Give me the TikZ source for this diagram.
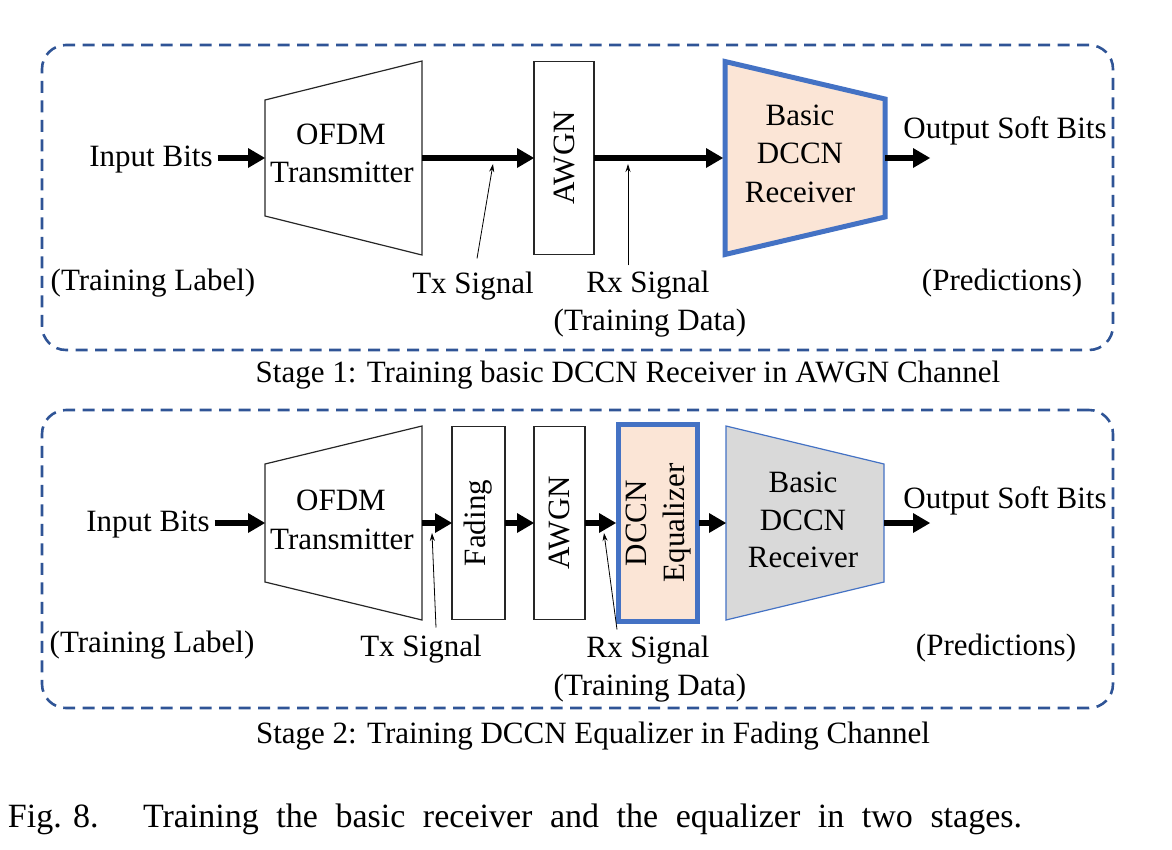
\documentclass[tikz,border=0pt]{standalone}
\usepackage{fontspec}
\usepackage{graphicx}
\setmainfont{Liberation Serif}
\usetikzlibrary{arrows.meta,calc}
\definecolor{dashblue}{HTML}{2F5496}
\definecolor{rxblue}{HTML}{4472C4}
\definecolor{peach}{HTML}{FBE5D6}
\definecolor{graybox}{HTML}{D9D9D9}
\begin{document}
\begin{tikzpicture}[x=1pt,y=-1pt,
  lbl/.style={font=\fontsize{31}{38}\selectfont, inner sep=0pt, outer sep=0pt, align=center},
  figcap/.style={font=\fontsize{34}{40}\selectfont, inner sep=0pt, outer sep=0pt},
  big/.style={-{Triangle[length=17pt,width=20pt,line width=0pt]}, line width=6pt},
  pointer/.style={-{Stealth[length=8pt,width=5pt]}, line width=0.8pt},
  stagebox/.style={draw=dashblue, line width=2.6pt, dash pattern=on 12pt off 7.5pt, rounded corners=24pt, inner sep=0pt},
  holder/.style={inner sep=0pt, outer sep=0pt},
  blockbox/.style={draw=black!85, line width=1.3pt, inner sep=0pt, outer sep=0pt, font=\fontsize{31}{38}\selectfont},
  trapline/.style={draw=black!85, line width=1.2pt, line join=miter},
  hlbox/.style={draw=rxblue, line width=5pt, fill=peach, line join=miter},
  grayrx/.style={draw=rxblue, line width=1.2pt, fill=graybox, line join=miter},
]
\useasboundingbox (0,0) rectangle (1172,849);

% ---------------- Stage 1 ----------------
\node[stagebox, minimum width=1071pt, minimum height=305pt] (s1) at (577.5,197.5) {};

\node[holder, minimum width=157pt, minimum height=194pt] (tx1) at (343.5,158) {};
\draw[trapline] ($(tx1.west)+(0,-58)$) -- (tx1.north east) -- (tx1.south east) -- ($(tx1.west)+(0,58)$) -- cycle;
\node[lbl, anchor=base] (tx1a) at (341,144) {OFDM};
\node[lbl, anchor=base] (tx1b) at (342,182) {Transmitter};

\node[blockbox, minimum width=60pt, minimum height=193pt] (awgn1) at (564,158) {\rotatebox{90}{AWGN}};

\node[holder, minimum width=160pt, minimum height=193pt] (rx1) at (805,158) {};
\draw[hlbox] (rx1.north west) -- ($(rx1.east)+(0,-59)$) -- ($(rx1.east)+(0,59)$) -- (rx1.south west) -- cycle;
\node[lbl, anchor=base] (rx1a) at (800,125) {Basic};
\node[lbl, anchor=base] (rx1b) at (800,163) {DCCN};
\node[lbl, anchor=base] (rx1c) at (800,202) {Receiver};

\node[lbl, anchor=base] (in1) at (151,166) {Input Bits};
\node[lbl, anchor=base] (out1) at (1005,138) {Output Soft Bits};
\node[lbl, anchor=base] (tl1) at (153,290) {(Training Label)};
\node[lbl, anchor=base] (txs1) at (473,293) {Tx Signal};
\node[lbl, anchor=base] (rxs1) at (648,292) {Rx Signal};
\node[lbl, anchor=base] (td1) at (650,330) {(Training Data)};
\node[lbl, anchor=base] (pr1) at (1002,290) {(Predictions)};
\node[lbl, anchor=base] (cap1) at (628,382) {Stage 1: Training basic DCCN Receiver in AWGN Channel};

\coordinate (o1) at (930,158);
\draw[big] ($(in1.east |- tx1.west)+(5,0)$) -- (tx1.west);
\draw[big] (tx1.east) -- (awgn1.west);
\draw[big, shorten >=2pt] (awgn1.east) -- (rx1.west);
\draw[big] (rx1.east) -- (o1);

\coordinate (t1) at (493,164);
\coordinate (r1) at (628,164);
\draw[pointer] ($(txs1.north)+(4,-13)$) -- (t1);
\draw[pointer] ($(rxs1.north)+(-20,-5)$) -- (r1);

% ---------------- Stage 2 ----------------
\node[stagebox, minimum width=1071pt, minimum height=298pt] (s2) at (577.5,559) {};

\node[holder, minimum width=157pt, minimum height=194pt] (tx2) at (343.5,523) {};
\draw[trapline] ($(tx2.west)+(0,-59)$) -- (tx2.north east) -- (tx2.south east) -- ($(tx2.west)+(0,59)$) -- cycle;
\node[lbl, anchor=base] (tx2a) at (341,510) {OFDM};
\node[lbl, anchor=base] (tx2b) at (342,549) {Transmitter};

\node[blockbox, minimum width=53pt, minimum height=193pt] (fad) at (478.5,523) {\rotatebox{90}{Fading}};
\node[blockbox, minimum width=51pt, minimum height=193pt] (awgn2) at (559.5,523) {\rotatebox{90}{AWGN}};
\node[blockbox, hlbox, minimum width=79pt, minimum height=197pt] (eq) at (657.5,523)
  {\rotatebox{90}{\begin{tabular}{@{}c@{}}DCCN\\Equalizer\end{tabular}}};

\node[holder, minimum width=158pt, minimum height=194pt] (rx2) at (805,523) {};
\draw[grayrx] (rx2.north west) -- ($(rx2.east)+(0,-59)$) -- ($(rx2.east)+(0,59)$) -- (rx2.south west) -- cycle;
\node[lbl, anchor=base] (rx2a) at (803,492) {Basic};
\node[lbl, anchor=base] (rx2b) at (803,530) {DCCN};
\node[lbl, anchor=base] (rx2c) at (803,567) {Receiver};

\node[lbl, anchor=base] (in2) at (148,531) {Input Bits};
\node[lbl, anchor=base] (out2) at (1005,508) {Output Soft Bits};
\node[lbl, anchor=base] (tl2) at (152,652) {(Training Label)};
\node[lbl, anchor=base] (txs2) at (421,656) {Tx Signal};
\node[lbl, anchor=base] (rxs2) at (648,657) {Rx Signal};
\node[lbl, anchor=base] (td2) at (650,695) {(Training Data)};
\node[lbl, anchor=base] (pr2) at (996,655) {(Predictions)};
\node[lbl, anchor=base] (cap2) at (593,743) {Stage 2: Training DCCN Equalizer in Fading Channel};

\coordinate (o2) at (930,523);
\draw[big] ($(in2.east |- tx2.west)+(5,0)$) -- (tx2.west);
\draw[big] (tx2.east) -- (fad.west);
\draw[big] (fad.east) -- (awgn2.west);
\draw[big, shorten >=2pt] (awgn2.east) -- (eq.west);
\draw[big, shorten <=2pt] (eq.east) -- (rx2.west);
\draw[big] (rx2.east) -- (o2);

\coordinate (t2) at (432,533);
\coordinate (r2) at (604,533);
\draw[pointer] ($(txs2.north)+(15,-7)$) -- (t2);
\draw[pointer] ($(rxs2.north)+(-31,-6)$) -- (r2);

% ---------------- Figure caption ----------------
\node[figcap, anchor=base west] (fig) at (8,827) {Fig. 8.};
\node[figcap, anchor=base west] (figtxt) at (143,827)
  {\makebox[879pt][s]{Training the basic receiver and the equalizer in two stages.}};
\end{tikzpicture}
\end{document}
